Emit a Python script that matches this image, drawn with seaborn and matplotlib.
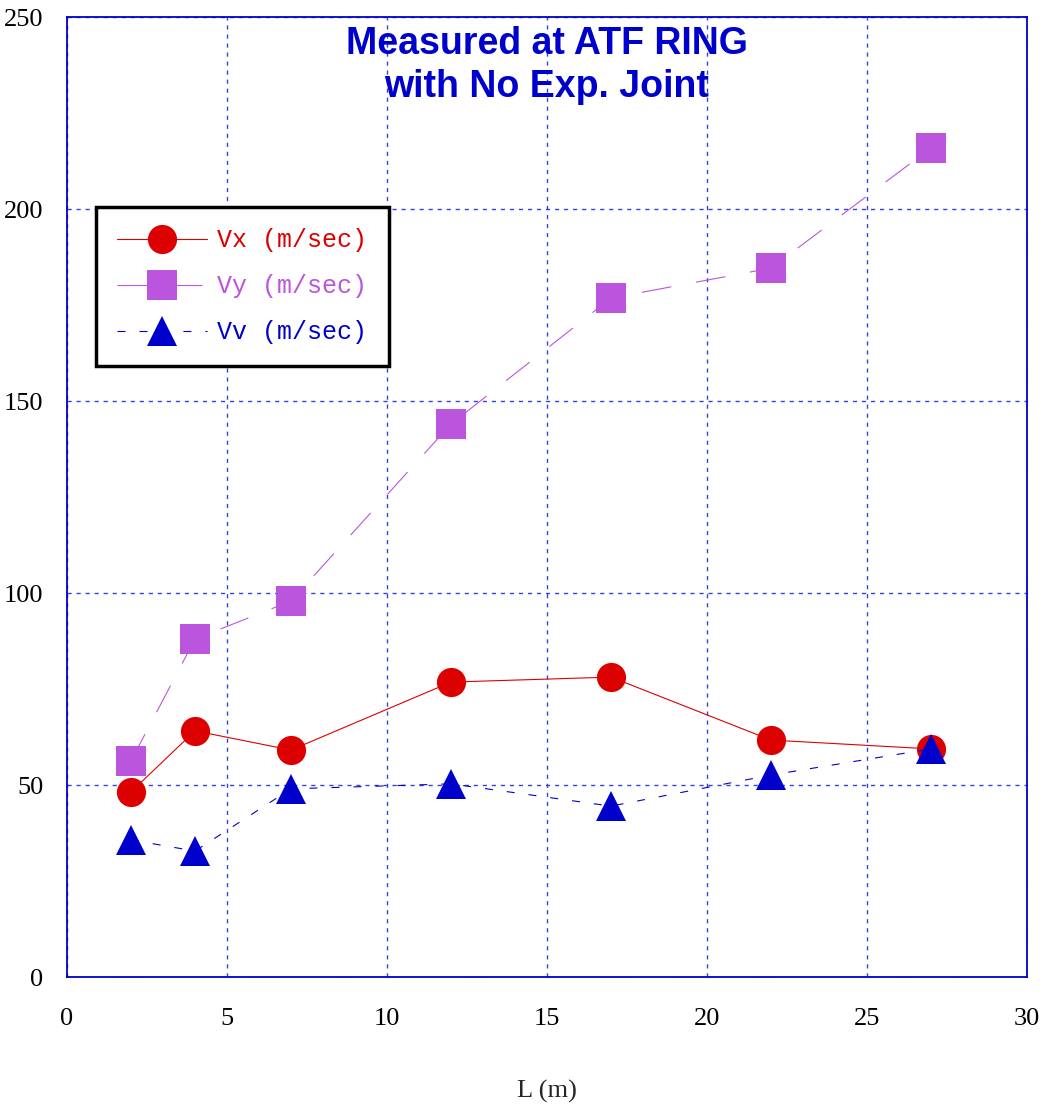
import matplotlib
matplotlib.use("Agg")
import matplotlib.pyplot as plt
import seaborn as sns
import pandas as pd

# Data
L_m = [2, 4, 7, 12, 17, 22, 27]
vx = [48.2, 64.1, 59.1, 76.8, 78.1, 61.7, 59.4]
vy = [56.3, 88.0, 97.9, 144.0, 176.8, 184.6, 215.9]
vv = [35.7, 32.8, 49.0, 50.3, 44.5, 52.6, 59.4]
series_names = ["Vx (m/sec)", "Vy (m/sec)", "Vv (m/sec)"]
x_ticks = [0, 5, 10, 15, 20, 25, 30]
y_ticks = [0, 50, 100, 150, 200, 250]
title_text = "Measured at ATF RING\nwith No Exp. Joint"
x_label = "L (m)"

sns.set_theme(style="white")
plt.rcParams['font.family'] = ['Liberation Serif', 'DejaVu Serif']

df = pd.DataFrame({"L": L_m * 3,
                   "V": vx + vy + vv,
                   "series": [series_names[0]] * 7 + [series_names[1]] * 7 + [series_names[2]] * 7})

fig = plt.figure(figsize=(10.49, 11.10), dpi=100)
ax = fig.add_axes([67 / 1049, 133 / 1110, 960 / 1049, 960 / 1110])

colors = ["#DD0000", "#BB55DD", "#0000CC"]
markers = ["o", "s", "^"]
msizes = [21, 21, 21]
dashes = [None, (0, (30 / 1.39 / 0.8, 25 / 1.39 / 0.8)), (0, (8 / 1.39 / 0.8, 14 / 1.39 / 0.8))]

for i, name in enumerate(series_names):
    sub = df[df["series"] == name]
    ls = "-" if i == 0 else dashes[i]
    sns.lineplot(data=sub, x="L", y="V", ax=ax, color=colors[i], marker=markers[i],
                 markersize=msizes[i], markeredgewidth=0, linewidth=0.8, linestyle=ls,
                 label=name, legend=False, zorder=3)

ax.set_xlim(0, 30)
ax.set_ylim(0, 250)
ax.set_xticks(x_ticks)
ax.set_yticks(y_ticks)
ax.tick_params(axis="both", which="both", length=0, labelsize=19, colors="black")
ax.tick_params(axis="x", pad=22)
ax.tick_params(axis="y", pad=17)
for lab in ax.get_xticklabels() + ax.get_yticklabels():
    lab.set_fontfamily(['Liberation Serif', 'DejaVu Serif'])

ax.grid(True, color="#3344DD", alpha=1.0, linestyle=(0, (3, 3.5)), linewidth=1.0)
for s in ax.spines.values():
    s.set_color("#0000CC")
    s.set_linewidth(1.3)
    s.set_visible(True)

ax.set_xlabel(x_label, fontsize=19, labelpad=36)
ax.set_ylabel("")

ax.text(0.5, 0.991, title_text, transform=ax.transAxes, ha="center", va="top",
        fontsize=27, fontweight="bold", color="#0000CC", family="Liberation Sans",
        linespacing=1.25)

handles, labels = ax.get_legend_handles_labels()
leg = ax.legend(handles, labels, loc="upper left", bbox_to_anchor=(29 / 960, 770 / 960),
                borderaxespad=0, frameon=True, fancybox=False, handlelength=3.6,
                borderpad=0.85, labelspacing=0.88, handletextpad=0.4,
                prop={"family": "Liberation Mono", "size": 18})
leg.get_frame().set_edgecolor("black")
leg.get_frame().set_linewidth(2.5)
leg.get_frame().set_alpha(1)
for t, c in zip(leg.get_texts(), colors):
    t.set_color(c)

fig.savefig("out.png", dpi=100)
